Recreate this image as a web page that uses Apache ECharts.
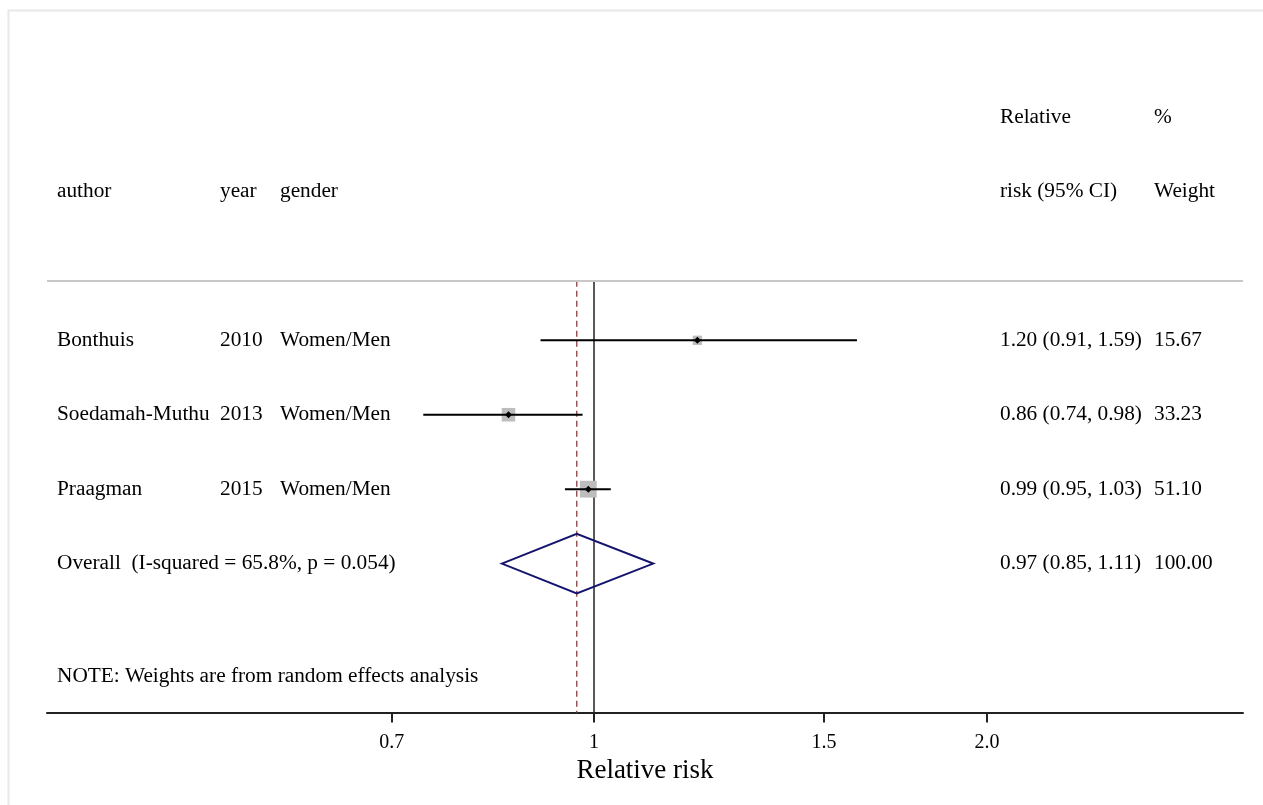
<!DOCTYPE html>
<html>
<head>
<meta charset="utf-8">
<script src="https://cdn.jsdelivr.net/npm/echarts@6/dist/echarts.min.js"></script>
<style>
html,body{margin:0;padding:0;background:#fff;}
#chart{width:1263px;height:805px;}
</style>
</head>
<body>
<div id="chart"></div>
<script>
// ---- data ----
const authors = ['Bonthuis', 'Soedamah-Muthu', 'Praagman'];
const years = ['2010', '2013', '2015'];
const genders = ['Women/Men', 'Women/Men', 'Women/Men'];
const rr = [1.20, 0.86, 0.99];
const ciLow = [0.91, 0.74, 0.95];
const ciHigh = [1.59, 0.98, 1.03];
const weights = [15.67, 33.23, 51.10];
const overallRR = 0.97;
const overallLow = 0.85;
const overallHigh = 1.11;
const overallWeight = 100.00;
const iSquared = 65.8;
const pValue = 0.054;
const tickValues = [0.7, 1, 1.5, 2.0];
const tickLabels = ['0.7', '1', '1.5', '2.0'];
const axisMinRR = 0.3811;
const axisMaxRR = 3.141;

// ---- layout ----
const FONT = "'Liberation Serif', 'Times New Roman', serif";
const ln = Math.log;
const colX = { author: 57, year: 220, gender: 280, ci: 1000, weight: 1154 };
const fs = 21.3;

// text cells: [row, column, text]
const textCells = [];
textCells.push([-3, 'ci', 'Relative']);
textCells.push([-3, 'weight', '%']);
textCells.push([-2, 'author', 'author']);
textCells.push([-2, 'year', 'year']);
textCells.push([-2, 'gender', 'gender']);
textCells.push([-2, 'ci', 'risk (95% CI)']);
textCells.push([-2, 'weight', 'Weight']);
authors.forEach((a, i) => {
  textCells.push([i, 'author', a]);
  textCells.push([i, 'year', years[i]]);
  textCells.push([i, 'gender', genders[i]]);
  textCells.push([i, 'ci', rr[i].toFixed(2) + ' (' + ciLow[i].toFixed(2) + ', ' + ciHigh[i].toFixed(2) + ')']);
  textCells.push([i, 'weight', weights[i].toFixed(2)]);
});
const oRow = authors.length;
textCells.push([oRow, 'author', 'Overall  (I-squared = ' + iSquared.toFixed(1) + '%, p = ' + pValue.toFixed(3) + ')']);
textCells.push([oRow, 'ci', overallRR.toFixed(2) + ' (' + overallLow.toFixed(2) + ', ' + overallHigh.toFixed(2) + ')']);
textCells.push([oRow, 'weight', overallWeight.toFixed(2)]);
textCells.push([oRow + 1.52, 'author', 'NOTE: Weights are from random effects analysis']);

const sepRow = -0.8;
const bottomRow = 5;

const studyData = authors.map((a, i) => [ln(rr[i]), i, ln(ciLow[i]), ln(ciHigh[i]), weights[i]]);

const chart = echarts.init(document.getElementById('chart'));
chart.setOption({
  animation: false,
  backgroundColor: '#fff',
  graphic: [{
    type: 'rect', silent: true, z: -1,
    shape: { x: 8.5, y: 10.5, width: 1400, height: 900 },
    style: { fill: 'none', stroke: '#e8e8e8', lineWidth: 2 }
  }],
  grid: { left: 47, right: 20, top: 42.5, bottom: 92.5 },
  xAxis: {
    type: 'value',
    position: 'bottom',
    min: ln(axisMinRR),
    max: ln(axisMaxRR),
    name: 'Relative risk',
    nameLocation: 'middle',
    nameGap: 39,
    nameTextStyle: { fontFamily: FONT, fontSize: 27, color: '#000' },
    axisLine: { show: true, onZero: false, lineStyle: { color: '#222', width: 2 } },
    axisTick: { show: true, length: 10, lineStyle: { color: '#222', width: 2 }, customValues: tickValues.map(ln) },
    axisLabel: {
      customValues: tickValues.map(ln),
      margin: 20,
      fontFamily: FONT, fontSize: 20, color: '#000',
      formatter: function (v) {
        let best = 0;
        tickValues.forEach((t, i) => { if (Math.abs(ln(t) - v) < Math.abs(ln(tickValues[best]) - v)) best = i; });
        return tickLabels[best];
      }
    },
    splitLine: { show: false }
  },
  yAxis: {
    type: 'value', min: -4, max: bottomRow, inverse: true, show: false,
    axisLine: { show: false }, axisTick: { show: false }, axisLabel: { show: false }, splitLine: { show: false }
  },
  series: [
    {
      // separator under header
      type: 'line', data: [], silent: true,
      markLine: {
        symbol: 'none', silent: true, label: { show: false },
        lineStyle: { color: '#c8c8c8', width: 2, type: 'solid' },
        data: [{ yAxis: sepRow }]
      }
    },
    {
      // null line at RR = 1
      type: 'line', silent: true, symbol: 'none',
      lineStyle: { color: '#222', width: 1.5 },
      data: [[ln(1), sepRow], [ln(1), bottomRow]], z: 2
    },
    {
      // overall effect dashed line
      type: 'line', silent: true, symbol: 'none',
      lineStyle: { color: '#a84c50', width: 1.5, type: [6, 4] },
      data: [[ln(overallRR), sepRow], [ln(overallRR), bottomRow]], z: 2
    },
    {
      // studies: CI + weighted square + point
      type: 'custom', silent: true, z: 3,
      data: studyData,
      renderItem: function (params, api) {
        const c = api.coord([api.value(0), api.value(1)]);
        const l = api.coord([api.value(2), api.value(1)]);
        const h = api.coord([api.value(3), api.value(1)]);
        const s = 2.35 * Math.sqrt(api.value(4));
        const d = 3.5;
        return {
          type: 'group',
          children: [
            { type: 'rect', shape: { x: c[0] - s / 2, y: c[1] - s / 2, width: s, height: s }, style: { fill: '#bdbdbd' } },
            { type: 'line', shape: { x1: l[0], y1: l[1], x2: h[0], y2: h[1] }, style: { stroke: '#000', lineWidth: 2 } },
            { type: 'polygon', shape: { points: [[c[0] - d, c[1]], [c[0], c[1] - d], [c[0] + d, c[1]], [c[0], c[1] + d]] }, style: { fill: '#000' } }
          ]
        };
      }
    },
    {
      // overall diamond
      type: 'custom', silent: true, z: 3,
      data: [[ln(overallRR), oRow, ln(overallLow), ln(overallHigh)]],
      renderItem: function (params, api) {
        const row = api.value(1);
        const top = api.coord([api.value(0), row - 0.4]);
        const bot = api.coord([api.value(0), row + 0.4]);
        const l = api.coord([api.value(2), row]);
        const h = api.coord([api.value(3), row]);
        return {
          type: 'polygon',
          shape: { points: [l, top, h, bot] },
          style: { fill: 'none', stroke: '#14146e', lineWidth: 2 }
        };
      }
    },
    {
      // text columns
      type: 'custom', silent: true, z: 4,
      data: textCells.map((t, i) => [0, t[0], i]),
      renderItem: function (params, api) {
        const cell = textCells[api.value(2)];
        const y = api.coord([0, api.value(1)])[1];
        return {
          type: 'text',
          style: {
            x: colX[cell[1]], y: y, text: cell[2],
            fontFamily: FONT, fontSize: fs, fill: '#000',
            textAlign: 'left', textVerticalAlign: 'middle'
          }
        };
      }
    }
  ]
});
</script>
</body>
</html>
